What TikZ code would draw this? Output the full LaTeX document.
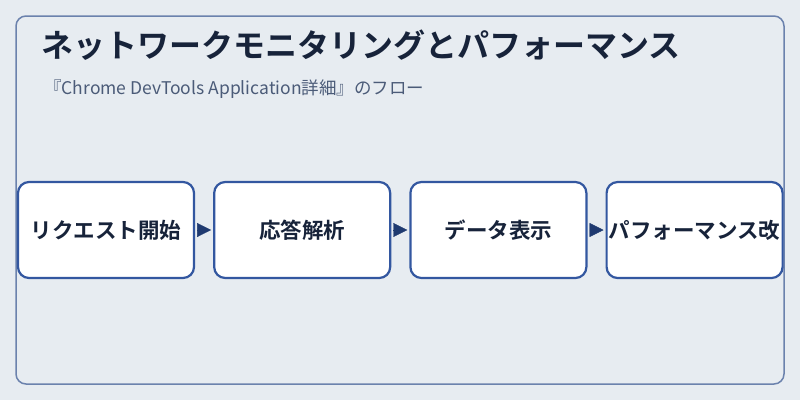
\documentclass[tikz,border=0pt]{standalone}
\usepackage{fontspec}
\setmainfont{Noto Sans CJK JP}
\newfontfamily\jpbold{Noto Sans CJK JP Bold}
\usetikzlibrary{positioning,arrows.meta}
\definecolor{bgcol}{HTML}{E7ECF1}
\definecolor{framecol}{HTML}{6B82AD}
\definecolor{boxcol}{HTML}{3357A0}
\definecolor{tipcol}{HTML}{1F3A70}
\definecolor{inkcol}{HTML}{17233A}
\definecolor{subcol}{HTML}{4B5B78}

\begin{document}
\begin{tikzpicture}[x=1pt,y=-1pt,node distance=18pt,
    flowbox/.style={draw=boxcol,fill=white,line width=2.2pt,rounded corners=11pt,
      minimum width=176pt,minimum height=96pt,inner sep=0pt,
      font=\jpbold\fontsize{21.5}{26}\selectfont,text=inkcol},
    flowarrow/.style={draw=tipcol,line width=0.4pt,shorten <=2pt,shorten >=2pt,
      -{Triangle[length=14pt,width=14pt,fill=tipcol]}}]
    % background and frame
    \fill[bgcol] (0,0) rectangle (800,400);
    \draw[framecol,line width=1.5pt,rounded corners=10pt] (16,16) rectangle (784,384);
    % heading
    \node[anchor=west,inner sep=0pt,text=inkcol,font=\jpbold\fontsize{32}{38}\selectfont]
      (title) at (41,45) {ネットワークモニタリングとパフォーマンス};
    \node[anchor=west,inner sep=0pt,text=subcol,font=\fontsize{17.5}{21}\selectfont]
      (subtitle) at (44,89) {『Chrome DevTools Application詳細』のフロー};
    % flow steps
    \node[flowbox] (start)   at (106,230)       {リクエスト開始};
    \node[flowbox] (parse)   [right=of start]   {応答解析};
    \node[flowbox] (show)    [right=of parse]   {データ表示};
    \node[flowbox] (improve) [right=of show]    {パフォーマンス改};
    \path[flowarrow] (start) -- (parse);
    \path[flowarrow] (parse) -- (show);
    \path[flowarrow] (show) -- (improve);
\end{tikzpicture}
\end{document}
